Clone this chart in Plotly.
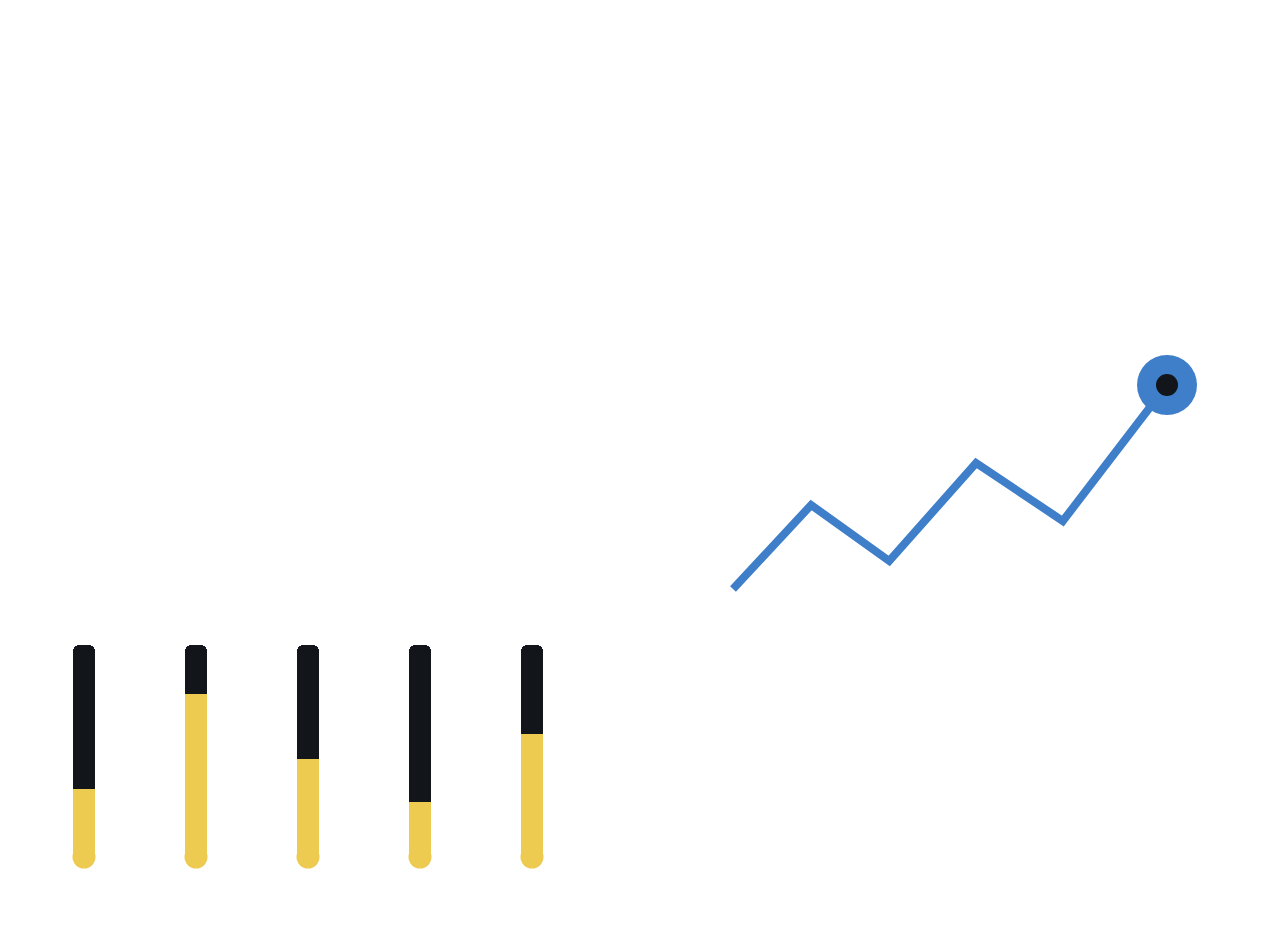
import plotly.graph_objects as go

# progress bars (percent filled)
bar_names = ["A", "B", "C", "D", "E"]
bar_fill = [32, 77, 46, 26, 58]
bar_rest = [100 - v for v in bar_fill]

# trend line
trend_x = [0, 9, 18, 28, 38, 50]
trend_y = [20, 41, 27, 51.5, 37, 71]

YELLOW = "#EDCA50"
BLACK = "#121519"
BLUE = "#3F7FC9"
W, H = 1256, 920  # page keeps an 8px body margin

fig = go.Figure()

fig.add_trace(go.Bar(x=bar_names, y=bar_fill, marker=dict(color=YELLOW, line_width=0),
                     width=0.205, xaxis="x", yaxis="y"))
fig.add_trace(go.Bar(x=bar_names, y=bar_rest, marker=dict(color=BLACK, line_width=0, cornerradius=7),
                     width=0.205, xaxis="x", yaxis="y"))
# round bottom caps
fig.add_trace(go.Scatter(x=bar_names, y=[0] * len(bar_names), mode="markers",
                         marker=dict(color=YELLOW, size=23, line_width=0),
                         cliponaxis=False, xaxis="x", yaxis="y"))

fig.add_trace(go.Scatter(x=trend_x, y=trend_y, mode="lines",
                         line=dict(color=BLUE, width=8),
                         cliponaxis=False, xaxis="x2", yaxis="y2"))
fig.add_trace(go.Scatter(x=trend_x[-1:], y=trend_y[-1:], mode="markers",
                         marker=dict(color=BLUE, size=60, line_width=0),
                         cliponaxis=False, xaxis="x2", yaxis="y2"))
fig.add_trace(go.Scatter(x=trend_x[-1:], y=trend_y[-1:], mode="markers",
                         marker=dict(color=BLACK, size=22, line_width=0),
                         cliponaxis=False, xaxis="x2", yaxis="y2"))

hidden = dict(visible=False, showgrid=False, zeroline=False, fixedrange=True)
fig.update_layout(
    width=W, height=H,
    margin=dict(l=0, r=0, t=0, b=0),
    paper_bgcolor="white", plot_bgcolor="rgba(0,0,0,0)",
    showlegend=False, barmode="stack",
    xaxis=dict(domain=[20 / W, 580 / W], range=[-0.5, 4.5], **hidden),
    yaxis=dict(domain=[71 / H, 283 / H], range=[0, 100], **hidden),
    xaxis2=dict(domain=[0, 1], range=[-725 / 8.68, (W - 725) / 8.68], anchor="y2", **hidden),
    yaxis2=dict(domain=[0, 1], range=[20 - 339 / 4, 20 + (H - 339) / 4], anchor="x2", **hidden),
)

fig.write_html("out.html")
